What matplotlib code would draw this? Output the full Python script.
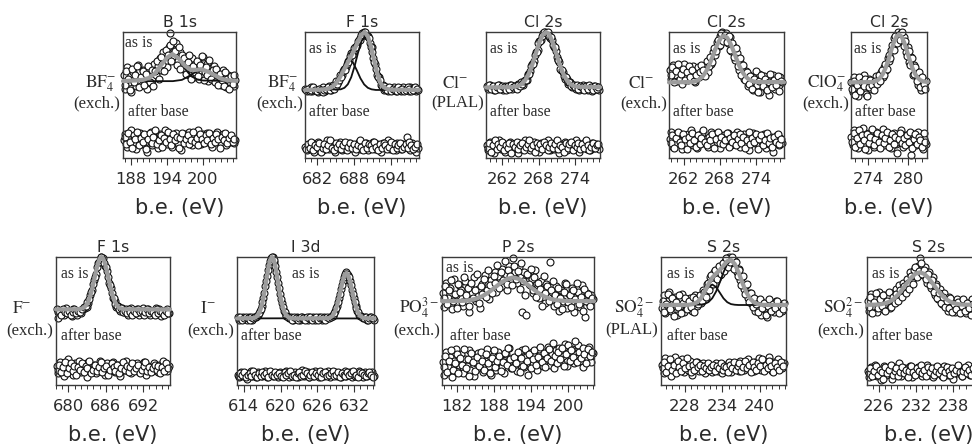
import numpy as np
import matplotlib
matplotlib.use("Agg")
import matplotlib.pyplot as plt
from matplotlib.ticker import MultipleLocator

plt.rcParams["mathtext.fontset"] = "stix"

# intensities are in % of the panel height; energies in eV
# scan 1 is sampled from e0 in steps of `step`, scan 2 sits half a step later

# ---- B 1s, BF4- (exch.) ----
b1s_e0, b1s_step = 186.8, 0.3
b1s_asis = [66, 55, 72, 60, 52, 68, 63, 57, 74, 61,
            58, 70, 64, 55, 71, 67, 62, 75, 66, 73,
            79, 70, 84, 76, 72, 88, 99, 80, 86, 91,
            77, 84, 73, 81, 70, 78, 66, 74, 79, 64,
            72, 76, 63, 70, 80, 68, 75, 61, 71, 66,
            73, 60, 68, 64, 58, 70, 62, 56, 66, 60,
            64, 57, 62]
b1s_asis2 = [58, 69, 63, 54, 71, 60, 66, 73, 56, 64,
             69, 58, 67, 73, 60, 70, 57, 69, 77, 63,
             80, 75, 69, 86, 82, 90, 77, 93, 85, 74,
             88, 71, 82, 79, 67, 76, 82, 63, 73, 68,
             77, 65, 74, 81, 62, 72, 66, 78, 63, 70,
             60, 71, 58, 67, 62, 57, 68, 63, 55, 65,
             59, 66]
b1s_after = [14, 19, 9, 16, 22, 12, 17, 7, 15, 20,
             11, 18, 13, 5, 16, 21, 10, 17, 14, 8,
             19, 13, 16, 22, 11, 15, 18, 9, 14, 20,
             12, 17, 6, 15, 19, 13, 21, 16, 10, 18,
             14, 22, 17, 11, 19, 15, 20, 13, 17, 9,
             18, 14, 21, 16, 12, 19, 15, 10, 17, 13,
             16, 12, 14]
b1s_after2 = [17, 11, 20, 13, 8, 18, 15, 21, 10, 16,
              13, 19, 7, 15, 20, 12, 17, 22, 11, 14,
              18, 9, 16, 13, 21, 15, 10, 19, 14, 17,
              8, 16, 20, 12, 15, 18, 11, 14, 21, 13,
              16, 10, 19, 15, 12, 18, 14, 20, 11, 16,
              13, 19, 15, 8, 17, 14, 20, 12, 16, 18,
              13, 15]
b1s_fit = [(186.7, 61), (190, 62), (191, 63.5), (192, 67), (193, 73.5), (194, 79.5),
           (194.9, 82.5), (196, 79), (197, 73.2), (198, 70), (199, 70), (199.7, 70.5),
           (201, 68.2), (202, 65.6), (203, 63), (204, 61.8), (205.5, 61.2)]
b1s_peaks = [
    [(186.7, 61), (190, 62), (191, 63.5), (192, 67), (193, 73.5), (194, 79.5), (194.9, 82.5),
     (196, 78.5), (197, 71), (198, 65), (199, 62.5), (200, 61.5), (205.5, 61)],
    [(186.7, 61), (195, 61), (196.5, 62), (197.5, 64.5), (198.5, 67.5), (199.7, 69.5),
     (201, 68), (202, 65.5), (203, 63), (204, 61.8), (205.5, 61.2)],
]

# ---- F 1s, BF4- (exch.) ----
bf4_e0, bf4_step = 680.0, 0.3
bf4_asis = [55, 53, 54, 56, 53, 55, 54, 52, 55, 54,
            56, 53, 55, 57, 54, 58, 57, 61, 60, 66,
            66, 71, 72, 77, 78, 83, 84, 88, 90, 94,
            95, 99, 100, 98, 97, 91, 88, 79, 75, 66,
            64, 58, 58, 54, 56, 53, 55, 54, 56, 53,
            55, 54, 53, 56, 54, 55, 53, 56, 54, 55,
            53, 54]
bf4_asis2 = [54, 55, 53, 54, 56, 54, 53, 55, 54, 52,
             54, 55, 56, 54, 56, 55, 57, 59, 62, 64,
             69, 70, 75, 76, 81, 82, 87, 88, 93, 94,
             98, 98, 100, 97, 95, 88, 84, 76, 71, 64,
             62, 57, 57, 55, 54, 56, 53, 55, 54, 53,
             56, 54, 55, 53, 54, 56, 55, 53, 54, 56,
             55]
bf4_after = [9, 6, 11, 7, 12, 5, 9, 13, 8, 10,
             6, 11, 14, 7, 9, 12, 5, 10, 8, 13,
             6, 9, 11, 7, 12, 8, 10, 5, 9, 13,
             7, 11, 8, 12, 6, 10, 9, 13, 7, 11,
             8, 5, 12, 9, 10, 14, 7, 11, 8, 6,
             12, 9, 7, 11, 10, 17, 8, 6, 12, 9,
             5, 8]
bf4_after2 = [7, 11, 8, 13, 6, 10, 9, 12, 5, 8,
              11, 7, 10, 14, 8, 6, 12, 9, 11, 7,
              10, 13, 6, 9, 12, 8, 11, 7, 10, 14,
              9, 6, 12, 8, 11, 10, 7, 13, 9, 6,
              11, 8, 12, 10, 7, 9, 13, 6, 11, 8,
              10, 12, 7, 9, 11, 8, 13, 10, 7, 9,
              11]
bf4_fit = [(680.0, 54), (682.5, 54.2), (683.5, 54.8), (684.3, 56), (685.0, 59), (685.6, 63.5),
           (686.2, 69), (686.8, 74.5), (687.4, 80), (688.0, 86), (688.6, 92.5), (689.2, 98),
           (689.7, 100), (690.2, 96.5), (690.7, 88.5), (691.2, 78), (691.7, 67.5), (692.2, 60),
           (692.7, 56.5), (693.3, 54.8), (694.0, 54.2), (698.5, 54)]
bf4_peaks = [
    [(680.0, 54), (683.6, 54.5), (684.2, 55.7), (684.8, 58.4), (685.4, 63.2), (686.0, 69.7),
     (686.6, 75.6), (687.2, 78), (687.8, 75.6), (688.4, 69.7), (689.0, 63.2), (689.6, 58.4),
     (690.2, 55.7), (690.8, 54.5), (691.5, 54), (698.5, 54)],
    [(680.0, 54), (685.8, 54.5), (686.4, 55.7), (686.95, 58.5), (687.5, 64.1), (688.05, 72.9),
     (688.6, 83.5), (689.15, 92.6), (689.7, 96.2), (690.25, 92.6), (690.8, 83.5), (691.35, 72.9),
     (691.9, 64.1), (692.45, 58.5), (693.0, 55.7), (693.6, 54.5), (698.5, 54)],
]

# ---- Cl 2s, Cl- (PLAL) ----
clp_e0, clp_step = 259.4, 0.3
clp_asis = [57, 55, 58, 56, 54, 57, 55, 58, 56, 54,
            57, 55, 56, 58, 55, 57, 56, 59, 57, 60,
            58, 62, 62, 67, 69, 75, 77, 84, 86, 93,
            94, 99, 100, 98, 99, 95, 94, 88, 85, 78,
            76, 70, 68, 63, 63, 59, 60, 56, 58, 55,
            57, 54, 56, 58, 55, 57, 54, 56, 53, 57,
            55, 56, 54]
clp_asis2 = [56, 58, 55, 57, 54, 56, 58, 55, 57, 56,
             54, 57, 55, 58, 56, 57, 55, 58, 57, 59,
             61, 62, 66, 67, 73, 75, 82, 84, 91, 93,
             97, 100, 99, 100, 97, 96, 90, 88, 80, 78,
             71, 70, 65, 64, 60, 60, 57, 58, 56, 58,
             55, 57, 56, 54, 57, 55, 58, 56, 54, 57,
             55, 56]
clp_after = [10, 6, 13, 8, 4, 11, 9, 14, 7, 12,
             5, 10, 8, 13, 6, 11, 9, 4, 12, 7,
             10, 14, 8, 11, 6, 9, 13, 7, 10, 5,
             12, 8, 11, 9, 14, 6, 10, 7, 12, 9,
             4, 11, 8, 13, 6, 10, 12, 7, 9, 14,
             8, 5, 11, 9, 13, 7, 10, 6, 12, 8,
             11, 9, 7]
clp_after2 = [8, 12, 5, 10, 14, 7, 11, 9, 13, 6,
              10, 8, 12, 4, 11, 9, 13, 7, 10, 12,
              6, 9, 11, 14, 8, 10, 5, 12, 9, 11,
              7, 13, 10, 6, 9, 12, 8, 11, 14, 7,
              10, 9, 5, 12, 8, 11, 13, 6, 10, 9,
              12, 7, 11, 8, 14, 10, 6, 9, 12, 8,
              10, 11]
clp_fit = [(259.3, 56), (263.5, 56.2), (264.5, 56.9), (265.1, 58.4), (265.7, 61.3), (266.3, 66.3),
           (266.9, 73.6), (267.5, 82.7), (268.1, 91.7), (268.7, 98.1), (269.2, 100), (269.7, 98.3),
           (270.2, 93), (270.8, 84.2), (271.4, 75), (272.0, 67.3), (272.6, 61.9), (273.2, 58.8),
           (273.8, 57.1), (274.5, 56.5), (278.1, 56.2)]

# ---- Cl 2s, Cl- (exch.) ----
clx_e0, clx_step = 259.7, 0.3
clx_asis = [70, 63, 74, 66, 61, 72, 68, 59, 75, 65,
            62, 71, 67, 73, 60, 69, 64, 72, 66, 70,
            74, 68, 78, 75, 84, 82, 92, 89, 97, 100,
            95, 99, 91, 96, 85, 89, 78, 83, 70, 76,
            72, 63, 69, 57, 66, 60, 54, 64, 58, 67,
            52, 61, 65, 56, 63, 50, 59, 66, 55, 62,
            58, 64, 60]
clx_asis2 = [66, 72, 60, 69, 75, 63, 67, 71, 62, 68,
             73, 64, 70, 61, 66, 72, 68, 74, 70, 65,
             77, 73, 80, 76, 87, 85, 94, 90, 99, 93,
             98, 92, 97, 86, 91, 80, 87, 73, 79, 66,
             74, 62, 68, 59, 65, 55, 63, 69, 52, 61,
             66, 57, 63, 54, 60, 67, 56, 62, 58, 65,
             53, 61]
clx_after = [15, 21, 9, 18, 12, 20, 14, 7, 17, 11,
             19, 13, 22, 10, 16, 8, 18, 14, 20, 12,
             15, 9, 17, 21, 11, 16, 13, 19, 8, 15,
             18, 12, 20, 14, 10, 17, 13, 21, 16, 9,
             14, 19, 11, 17, 6, 15, 20, 12, 18, 10,
             16, 13, 19, 8, 15, 11, 17, 5, 14, 18,
             10, 16, 12]
clx_after2 = [12, 18, 8, 16, 21, 13, 10, 19, 15, 7,
              17, 12, 20, 14, 9, 18, 11, 16, 22, 13,
              10, 17, 14, 19, 8, 15, 21, 12, 17, 11,
              14, 20, 9, 16, 13, 18, 10, 15, 19, 12,
              17, 8, 14, 21, 11, 16, 13, 19, 7, 15,
              18, 10, 14, 20, 12, 16, 9, 17, 13, 19,
              11, 15]
clx_fit = [(259.6, 60), (263.2, 60.3), (263.7, 60.6), (264.2, 61.4), (264.7, 62.7), (265.2, 65),
           (265.7, 68.5), (266.2, 73.3), (266.7, 79.3), (267.2, 85.6), (267.7, 91.4), (268.2, 95.5),
           (268.7, 97), (269.2, 95.5), (269.7, 91.4), (270.2, 85.6), (270.7, 79.3), (271.2, 73.3),
           (271.7, 68.5), (272.2, 65), (272.7, 62.7), (273.2, 61.4), (273.7, 60.6), (274.2, 60.3),
           (278.6, 60.2)]

# ---- Cl 2s, ClO4- (exch.) ----
clo_e0, clo_step = 271.4, 0.25
clo_asis = [60, 52, 64, 56, 49, 62, 58, 54, 66, 51,
            59, 63, 55, 61, 57, 65, 60, 62, 68, 64,
            72, 70, 79, 77, 86, 88, 95, 93, 100, 97,
            99, 92, 96, 84, 88, 76, 80, 66, 74, 69,
            58, 66, 54, 62, 57, 61]
clo_asis2 = [55, 61, 50, 58, 64, 53, 60, 57, 63, 49,
             56, 62, 58, 54, 61, 59, 66, 61, 70, 66,
             75, 71, 82, 79, 90, 86, 97, 91, 98, 94,
             100, 89, 93, 81, 85, 74, 79, 67, 72, 61,
             68, 56, 64, 59, 55]
clo_after = [17, 10, 22, 13, 8, 19, 15, 24, 11, 16,
             6, 20, 14, 18, 9, 21, 12, 17, 15, 23,
             10, 16, 13, 19, 8, 14, 20, 11, 17, 13,
             22, 9, 15, 18, 12, 16, 2, 19, 14, 10,
             21, 13, 17, 7, 15, 11]
clo_after2 = [13, 20, 9, 16, 22, 11, 18, 14, 7, 19,
              12, 17, 23, 10, 15, 20, 13, 8, 18, 12,
              16, 21, 9, 14, 19, 11, 17, 4, 15, 20,
              12, 16, 10, 18, 13, 21, 8, 15, 19, 11,
              17, 14, 9, 20, 13]
clo_fit = [(271.3, 60), (274.6, 60.3), (275.0, 60.8), (275.4, 61.8), (275.8, 63.7), (276.2, 66.9),
           (276.6, 71.6), (277.0, 77.8), (277.4, 84.8), (277.8, 91.4), (278.2, 96.3), (278.6, 98),
           (279.0, 96.3), (279.4, 91.4), (279.8, 84.8), (280.2, 77.8), (280.6, 71.6), (281.0, 66.9),
           (281.4, 63.7), (281.8, 61.8), (282.2, 60.8), (282.9, 60.3)]

# ---- F 1s, F- (exch.) ----
fx_e0, fx_step = 678.1, 0.3
fx_asis = [59, 52, 57, 58, 55, 60, 56, 58, 54, 59,
           57, 55, 58, 56, 59, 60, 61, 64, 70, 74,
           82, 87, 95, 97, 100, 99, 93, 89, 80, 76,
           68, 66, 61, 62, 58, 60, 57, 59, 55, 58,
           60, 56, 58, 59, 55, 57, 60, 56, 58, 59,
           55, 58, 57, 60, 56, 59, 54, 58, 57, 59,
           56]
fx_asis2 = [57, 58, 55, 59, 57, 56, 58, 55, 57, 59,
            56, 58, 57, 59, 61, 62, 65, 67, 73, 79,
            84, 92, 96, 100, 98, 95, 92, 84, 78, 72,
            68, 63, 62, 59, 60, 57, 58, 56, 59, 57,
            55, 58, 56, 59, 57, 58, 55, 57, 59, 56,
            58, 57, 55, 59, 56, 58, 57, 55, 58, 56]
fx_after = [15, 9, 18, 12, 7, 16, 20, 11, 14, 8,
            17, 13, 19, 10, 15, 12, 6, 18, 14, 11,
            16, 9, 13, 19, 12, 15, 8, 17, 11, 14,
            18, 10, 13, 16, 7, 15, 12, 19, 11, 14,
            9, 16, 13, 17, 10, 14, 12, 18, 8, 15,
            13, 11, 17, 14, 10, 16, 12, 19, 13, 11,
            15]
fx_after2 = [12, 16, 10, 14, 18, 9, 13, 17, 11, 15,
             8, 14, 12, 17, 10, 15, 13, 19, 9, 12,
             16, 11, 14, 18, 10, 13, 15, 8, 12, 17,
             14, 11, 16, 9, 13, 18, 12, 15, 10, 14,
             17, 11, 13, 16, 9, 12, 15, 18, 11, 14,
             10, 13, 16, 12, 15, 9, 14, 11, 17, 13]
fx_fit = [(678.0, 59), (681.7, 59.2), (682.3, 60), (682.6, 61), (682.9, 62.8), (683.2, 65.6),
          (683.5, 69.7), (683.8, 75.2), (684.1, 81.6), (684.4, 88.4), (684.7, 94.3), (685.0, 98.5),
          (685.3, 100), (685.6, 98.5), (685.9, 94.3), (686.2, 88.4), (686.5, 81.6), (686.8, 75.2),
          (687.1, 69.7), (687.4, 65.6), (687.7, 62.8), (688.0, 61), (688.3, 60), (688.9, 59.2),
          (696.3, 59)]

# ---- I 3d, I- (exch.) ----
i3d_e0, i3d_step = 613.0, 0.3
i3d_asis = [53, 51, 52, 53, 52, 51, 53, 52, 51, 53,
            53, 55, 58, 62, 68, 77, 85, 94, 99, 100,
            96, 88, 80, 71, 64, 58, 55, 54, 52, 53,
            51, 52, 53, 52, 51, 53, 52, 52, 51, 53,
            52, 53, 51, 52, 53, 52, 51, 53, 52, 52,
            53, 54, 55, 58, 62, 68, 75, 81, 86, 88,
            86, 81, 74, 68, 62, 58, 55, 54, 52, 53,
            51, 52, 53, 52, 51]
i3d_asis2 = [52, 53, 51, 52, 53, 52, 51, 53, 52, 53,
             54, 56, 59, 65, 72, 81, 90, 97, 100, 98,
             93, 84, 76, 67, 61, 57, 54, 53, 52, 51,
             53, 52, 51, 52, 53, 52, 51, 53, 52, 53,
             51, 52, 53, 51, 52, 53, 52, 51, 53, 52,
             53, 54, 56, 60, 65, 71, 78, 84, 87, 87,
             84, 78, 71, 65, 60, 57, 54, 53, 52, 53,
             51, 52, 53, 52]
i3d_after = [8, 6, 10, 7, 9, 5, 8, 11, 7, 9,
             6, 10, 8, 7, 9, 11, 6, 8, 10, 7,
             9, 8, 6, 10, 7, 9, 11, 8, 6, 9,
             7, 10, 8, 6, 9, 12, 7, 8, 10, 6,
             9, 7, 11, 8, 6, 10, 9, 7, 8, 11,
             6, 9, 8, 10, 7, 9, 6, 8, 11, 7,
             9, 10, 6, 8, 7, 9, 11, 8, 6, 10,
             7, 9, 8, 10, 7]
i3d_after2 = [7, 9, 8, 10, 6, 8, 9, 7, 11, 8,
              6, 9, 7, 10, 8, 9, 6, 11, 8, 7,
              10, 8, 9, 7, 6, 10, 8, 9, 11, 7,
              8, 6, 9, 10, 7, 8, 11, 9, 6, 8,
              10, 7, 9, 8, 11, 6, 9, 10, 7, 8,
              9, 11, 7, 8, 10, 6, 9, 8, 7, 10,
              8, 9, 11, 7, 8, 6, 10, 9, 8, 7,
              9, 10, 8, 6]
i3d_peak1 = [(612.9, 52), (615.6, 52.3), (615.9, 52.8), (616.2, 54), (616.5, 56.2), (616.8, 60),
             (617.1, 65.8), (617.4, 73.6), (617.7, 82.6), (618.0, 91.3), (618.3, 97.7), (618.6, 100),
             (618.9, 97.7), (619.2, 91.3), (619.5, 82.6), (619.8, 73.6), (620.1, 65.8), (620.4, 60),
             (620.7, 56.2), (621.0, 54), (621.3, 52.8), (621.6, 52.3), (622.2, 52), (635.2, 52)]
i3d_peak2 = [(612.9, 52), (627.7, 52.2), (628.0, 52.6), (628.3, 53.5), (628.6, 55.1), (628.9, 57.9),
             (629.2, 62.2), (629.5, 68), (629.8, 74.6), (630.1, 81.1), (630.4, 85.8), (630.7, 87.5),
             (631.0, 85.8), (631.3, 81.1), (631.6, 74.6), (631.9, 68), (632.2, 62.2), (632.5, 57.9),
             (632.8, 55.1), (633.1, 53.5), (633.4, 52.6), (633.7, 52.2), (635.2, 52)]
# the two doublet lines do not overlap, so the envelope is just both knot sets joined
i3d_fit = i3d_peak1[:-1] + i3d_peak2[1:]

# ---- P 2s, PO4 3- (exch.) ----
p2s_e0, p2s_step = 179.7, 0.3
p2s_asis = [72, 61, 80, 68, 76, 59, 83, 70, 64, 78,
            74, 62, 81, 69, 57, 77, 72, 84, 66, 75,
            60, 79, 71, 86, 74, 67, 82, 76, 88, 73,
            85, 79, 91, 77, 86, 74, 93, 82, 99, 88,
            80, 92, 84, 57, 88, 55, 86, 78, 83, 72,
            90, 76, 68, 81, 74, 64, 79, 70, 96, 73,
            62, 77, 69, 58, 74, 66, 80, 60, 71, 64,
            76, 57, 69, 73, 61, 78, 66, 53, 72, 64,
            70, 67]
p2s_asis2 = [68, 77, 63, 74, 82, 66, 71, 60, 79, 73,
             65, 84, 70, 76, 62, 80, 68, 74, 87, 64,
             77, 71, 83, 69, 90, 78, 72, 85, 80, 94,
             76, 88, 82, 97, 79, 90, 85, 78, 93, 83,
             89, 75, 95, 81, 70, 87, 79, 91, 74, 84,
             69, 80, 75, 62, 85, 72, 77, 66, 74, 81,
             70, 63, 76, 68, 59, 73, 79, 65, 70, 61,
             74, 67, 80, 63, 69, 58, 75, 66, 71, 62,
             68]
p2s_after = [18, 8, 26, 14, 22, 6, 19, 28, 11, 16,
             24, 9, 20, 15, 27, 12, 21, 7, 17, 25,
             13, 22, 10, 19, 28, 15, 8, 23, 17, 12,
             26, 20, 14, 9, 24, 18, 29, 13, 21, 16,
             11, 25, 19, 27, 14, 22, 8, 20, 26, 17,
             23, 12, 28, 19, 15, 25, 21, 30, 16, 24,
             13, 27, 20, 29, 18, 23, 32, 15, 26, 21,
             28, 17, 24, 31, 19, 25, 14, 27, 22, 30,
             18, 25]
p2s_after2 = [14, 23, 10, 19, 27, 12, 17, 24, 9, 21,
              16, 28, 13, 20, 7, 25, 18, 11, 22, 15,
              26, 19, 12, 24, 17, 9, 21, 27, 14, 19,
              23, 11, 18, 25, 16, 29, 20, 13, 22, 17,
              26, 10, 21, 15, 28, 19, 24, 13, 20, 27,
              16, 22, 30, 18, 25, 14, 21, 28, 19, 33,
              23, 17, 26, 20, 29, 15, 24, 31, 19, 27,
              22, 34, 18, 26, 21, 29, 24, 17, 28, 23,
              26]
p2s_fit = [(179.6, 65.5), (182.1, 65.6), (183.1, 65.8), (184.1, 66.3), (185.1, 67.4), (186.1, 69.3),
           (187.1, 72.2), (188.1, 75.9), (189.1, 79.8), (190.1, 82.8), (191.1, 84), (192.1, 82.8),
           (193.1, 79.8), (194.1, 75.9), (195.1, 72.2), (196.1, 69.3), (197.1, 67.4), (198.1, 66.3),
           (199.1, 65.8), (200.1, 65.6), (204.2, 65.5)]

# ---- S 2s, SO4 2- (PLAL) ----
sp_e0, sp_step = 224.3, 0.3
sp_asis = [60, 70, 56, 66, 73, 58, 64, 69, 55, 67,
           62, 71, 57, 65, 60, 68, 58, 64, 70, 62,
           69, 64, 74, 72, 79, 76, 84, 81, 88, 84,
           91, 86, 93, 90, 97, 94, 100, 98, 95, 97,
           88, 91, 82, 84, 75, 78, 68, 72, 63, 67,
           58, 66, 61, 55, 64, 60, 53, 65, 59, 62,
           57, 66, 60, 63, 58, 64]
sp_asis2 = [66, 57, 63, 71, 59, 68, 54, 65, 61, 70,
            56, 64, 68, 59, 66, 61, 69, 57, 67, 63,
            70, 66, 73, 69, 80, 74, 86, 79, 90, 83,
            93, 87, 95, 89, 99, 92, 96, 100, 91, 96,
            85, 90, 78, 85, 71, 79, 65, 72, 61, 68,
            63, 57, 67, 60, 64, 55, 62, 67, 58, 63,
            60, 66, 56, 62, 59]
sp_after = [16, 9, 21, 13, 18, 7, 15, 22, 11, 17,
            14, 20, 10, 16, 12, 19, 8, 15, 13, 18,
            11, 14, 17, 9, 16, 12, 15, 10, 13, 17,
            11, 14, 9, 16, 12, 15, 18, 10, 13, 17,
            14, 11, 19, 15, 12, 16, 20, 13, 17, 11,
            18, 14, 21, 12, 16, 19, 13, 22, 15, 11,
            18, 14, 20, 16, 13, 17]
sp_after2 = [13, 18, 10, 15, 20, 12, 16, 9, 19, 14,
             11, 17, 13, 21, 15, 10, 16, 12, 18, 14,
             16, 11, 15, 13, 17, 12, 14, 16, 11, 15,
             13, 17, 12, 15, 14, 10, 16, 13, 18, 12,
             15, 17, 11, 14, 19, 13, 16, 10, 18, 14,
             12, 17, 15, 20, 11, 16, 13, 19, 15, 10,
             17, 14, 12, 18, 15]
sp_fit = [(224.2, 62.5), (228.5, 62.6), (229.3, 63.2), (230.0, 64.7), (230.6, 67.7), (231.2, 73.1),
          (231.8, 78.9), (232.4, 83.8), (233.0, 87), (233.6, 89.8), (234.2, 93.3), (234.8, 96.7),
          (235.4, 97.7), (236.0, 94.5), (236.6, 88.1), (237.2, 80.1), (237.8, 72.9), (238.4, 67.8),
          (239.0, 64.8), (239.7, 63.2), (240.5, 62.6), (244.2, 62.5)]
sp_peaks = [
    [(224.2, 62.5), (228.8, 62.7), (229.4, 63.2), (230.0, 64.7), (230.6, 67.7), (231.2, 72.2),
     (231.8, 76.6), (232.4, 78.5), (233.0, 76.6), (233.6, 72.2), (234.2, 67.7), (234.8, 64.7),
     (235.4, 63.2), (236.0, 62.7), (236.6, 62.5), (244.2, 62.5)],
    [(224.2, 62.5), (230.6, 62.8), (231.2, 63.4), (231.8, 64.8), (232.4, 67.8), (233.0, 72.9),
     (233.6, 80.1), (234.2, 88.1), (234.8, 94.5), (235.4, 97), (236.0, 94.5), (236.6, 88.1),
     (237.2, 80.1), (237.8, 72.9), (238.4, 67.8), (239.0, 64.8), (239.6, 63.4), (240.2, 62.8),
     (244.2, 62.5)],
]

# ---- S 2s, SO4 2- (exch.) ----
sx_e0, sx_step = 224.2, 0.3
sx_asis = [66, 58, 71, 62, 68, 57, 73, 64, 59, 70,
           63, 69, 60, 72, 66, 75, 68, 78, 71, 80,
           74, 83, 77, 88, 81, 90, 85, 93, 99, 91,
           86, 92, 80, 88, 76, 84, 70, 79, 67, 75,
           63, 72, 66, 58, 69, 61, 65, 57, 67, 62,
           59, 66, 61, 56, 64, 60, 67, 58, 63, 61,
           57, 65, 60, 63, 58, 62]
sx_asis2 = [61, 69, 56, 65, 72, 60, 67, 62, 70, 58,
            66, 73, 61, 69, 64, 71, 66, 74, 69, 77,
            72, 80, 75, 85, 79, 92, 84, 89, 95, 87,
            90, 83, 87, 78, 82, 73, 77, 68, 72, 64,
            69, 61, 66, 60, 68, 57, 63, 59, 65, 56,
            62, 67, 58, 64, 60, 55, 63, 59, 66, 61,
            57, 64, 59, 62, 56]
sx_after = [11, 6, 14, 9, 16, 7, 12, 4, 10, 15,
            8, 13, 11, 5, 14, 9, 12, 17, 7, 10,
            13, 8, 11, 15, 6, 12, 9, 14, 10, 7,
            13, 11, 16, 8, 12, 6, 10, 14, 9, 12,
            7, 15, 11, 8, 13, 10, 5, 12, 9, 14,
            11, 7, 13, 10, 16, 8, 12, 9, 14, 6,
            11, 13, 8, 12, 10, 9]
sx_after2 = [9, 13, 7, 11, 15, 8, 12, 10, 5, 14,
             9, 12, 16, 8, 11, 13, 7, 10, 14, 9,
             12, 6, 11, 15, 10, 8, 13, 11, 16, 9,
             12, 7, 14, 10, 13, 8, 11, 15, 9, 12,
             6, 10, 14, 11, 8, 13, 9, 12, 16, 10,
             7, 11, 14, 9, 12, 8, 13, 10, 6, 11,
             14, 9, 12, 10, 8]
sx_fit = [(224.1, 62.6), (225.6, 62.8), (226.3, 63.1), (227.0, 63.8), (227.7, 65.1), (228.4, 67.3),
          (229.1, 70.5), (229.8, 74.7), (230.5, 79.3), (231.2, 83.7), (231.9, 86.9), (232.6, 88),
          (233.3, 86.9), (234.0, 83.7), (234.7, 79.3), (235.4, 74.7), (236.1, 70.5), (236.8, 67.3),
          (237.5, 65.1), (238.2, 63.8), (238.9, 63.1), (239.6, 62.8), (244.1, 62.6)]

panels = [
    dict(title="B 1s", ion=r"$\mathrm{BF}_4^{-}$", prep="(exch.)", xlim=(186.7, 205.5),
         ticks=[188, 194, 200], e0=b1s_e0, step=b1s_step,
         scans=[b1s_asis, b1s_asis2, b1s_after, b1s_after2], fit=b1s_fit, peaks=b1s_peaks),
    dict(title="F 1s", ion=r"$\mathrm{BF}_4^{-}$", prep="(exch.)", xlim=(680.0, 698.5),
         ticks=[682, 688, 694], e0=bf4_e0, step=bf4_step,
         scans=[bf4_asis, bf4_asis2, bf4_after, bf4_after2], fit=bf4_fit, peaks=bf4_peaks),
    dict(title="Cl 2s", ion=r"$\mathrm{Cl}^{-}$", prep="(PLAL)", xlim=(259.3, 278.1),
         ticks=[262, 268, 274], e0=clp_e0, step=clp_step,
         scans=[clp_asis, clp_asis2, clp_after, clp_after2], fit=clp_fit, peaks=[]),
    dict(title="Cl 2s", ion=r"$\mathrm{Cl}^{-}$", prep="(exch.)", xlim=(259.6, 278.6),
         ticks=[262, 268, 274], e0=clx_e0, step=clx_step,
         scans=[clx_asis, clx_asis2, clx_after, clx_after2], fit=clx_fit, peaks=[]),
    dict(title="Cl 2s", ion=r"$\mathrm{ClO}_4^{-}$", prep="(exch.)", xlim=(271.4, 282.8),
         ticks=[274, 280], e0=clo_e0, step=clo_step,
         scans=[clo_asis, clo_asis2, clo_after, clo_after2], fit=clo_fit, peaks=[]),
    dict(title="F 1s", ion=r"$\mathrm{F}^{-}$", prep="(exch.)", xlim=(678.0, 696.3),
         ticks=[680, 686, 692], e0=fx_e0, step=fx_step,
         scans=[fx_asis, fx_asis2, fx_after, fx_after2], fit=fx_fit, peaks=[]),
    dict(title="I 3d", ion=r"$\mathrm{I}^{-}$", prep="(exch.)", xlim=(612.9, 635.2),
         ticks=[614, 620, 626, 632], e0=i3d_e0, step=i3d_step,
         scans=[i3d_asis, i3d_asis2, i3d_after, i3d_after2], fit=i3d_fit,
         peaks=[i3d_peak1, i3d_peak2]),
    dict(title="P 2s", ion=r"$\mathrm{PO}_4^{3-}$", prep="(exch.)", xlim=(179.6, 204.2),
         ticks=[182, 188, 194, 200], e0=p2s_e0, step=p2s_step,
         scans=[p2s_asis, p2s_asis2, p2s_after, p2s_after2], fit=p2s_fit, peaks=[]),
    dict(title="S 2s", ion=r"$\mathrm{SO}_4^{2-}$", prep="(PLAL)", xlim=(224.2, 244.2),
         ticks=[228, 234, 240], e0=sp_e0, step=sp_step,
         scans=[sp_asis, sp_asis2, sp_after, sp_after2], fit=sp_fit, peaks=sp_peaks),
    dict(title="S 2s", ion=r"$\mathrm{SO}_4^{2-}$", prep="(exch.)", xlim=(224.1, 244.1),
         ticks=[226, 232, 238], e0=sx_e0, step=sx_step,
         scans=[sx_asis, sx_asis2, sx_after, sx_after2], fit=sx_fit, peaks=[]),
]

# layout in pixels: axes box (left, top, right, bottom), ion label line centres/baselines,
# and left/baseline of the "as is" and "after base" tags
W, H = 972, 445
boxes = [(123, 32, 236, 158), (305, 32, 419, 158), (486, 32, 600, 158),
         (669, 32, 784, 158), (851, 32, 927, 158),
         (56, 257, 170, 385), (237, 257, 374, 385), (442, 257, 594, 385),
         (661, 257, 786, 385), (867, 257, 991, 385)]
ion_pos = [((101, 87.5), (97, 107.5)), ((282.5, 87.5), (280, 107.5)),
           ((455, 87.5), (457.5, 107.5)), ((641, 87.5), (643.5, 107.5)),
           ((826.5, 87.5), (825.5, 107.5)),
           ((21.5, 313), (30, 334)), ((207.5, 313), (210.5, 334)),
           ((418.5, 313), (416.5, 334)), ((633.5, 313), (631.5, 334)),
           ((842.5, 313), (841, 334))]
asis_pos = [(125, 46.7), (309, 52.7), (490, 52.7), (673, 52.7), (854, 52.7),
            (61, 277.7), (292, 277.7), (446, 271.7), (667, 277.7), (872, 277.7)]
after_pos = [(128, 115.5), (309, 115.5), (490, 115.5), (673, 115.5), (855, 115.5),
             (61, 340), (241, 340), (450, 340), (667, 340), (872, 340)]

TXT = "#2b2b2b"
serif = "Liberation Serif"

fig = plt.figure(figsize=(W / 100, H / 100), dpi=100)
fig.patch.set_facecolor("white")


def fxy(x, y):
    return x / W, 1 - y / H


for p, box, ip, ap, bp in zip(panels, boxes, ion_pos, asis_pos, after_pos):
    l, t, r, b = box
    ax = fig.add_axes([l / W, 1 - b / H, (r - l) / W, (b - t) / H])

    # scans alternate: first scan on the base grid, second shifted by half a step
    for i, y in enumerate(p["scans"]):
        e = p["e0"] + p["step"] * (np.arange(len(y)) + 0.5 * (i % 2))
        ax.plot(e, y, "o", ms=5.0, mfc="white", mec="#111111", mew=0.8,
                clip_on=False, zorder=2)
    for pk in p["peaks"]:
        kx, ky = np.array(pk).T
        ax.plot(kx, ky, color="#111111", lw=1.3, clip_on=False, zorder=3)
    fx_, fy_ = np.array(p["fit"]).T
    ax.plot(fx_, fy_, color="#9c9c9c", lw=3.0, solid_capstyle="round",
            clip_on=False, zorder=4)

    ax.set_xlim(*p["xlim"])
    ax.set_ylim(0, 100)
    ax.set_yticks([])
    ax.set_xticks(p["ticks"])
    ax.xaxis.set_minor_locator(MultipleLocator(1))
    ax.tick_params(axis="x", which="major", direction="out", length=5, width=0.8,
                   color="#333333", labelsize=11.8, labelcolor=TXT, pad=5)
    ax.tick_params(axis="x", which="minor", direction="out", length=3, width=0.7,
                   color="#333333")
    for s in ax.spines.values():
        s.set_color("#3a3a3a")
        s.set_linewidth(1.0)
    ax.set_title(p["title"], fontsize=11.3, color=TXT, pad=3.8)
    ax.set_xlabel("b.e. (eV)", fontsize=15, color=TXT, labelpad=8)

    (x1, y1), (x2, y2) = ip
    fig.text(*fxy(x1, y1), p["ion"], ha="center", va="baseline", fontsize=12.5,
             family=serif, color=TXT)
    fig.text(*fxy(x2, y2), p["prep"], ha="center", va="baseline", fontsize=12,
             family=serif, color=TXT)
    fig.text(*fxy(*ap), "as is", ha="left", va="baseline", fontsize=11.3,
             family=serif, color=TXT, zorder=10)
    fig.text(*fxy(*bp), "after base", ha="left", va="baseline", fontsize=11.3,
             family=serif, color=TXT, zorder=10)

fig.savefig("out.png", dpi=100)
